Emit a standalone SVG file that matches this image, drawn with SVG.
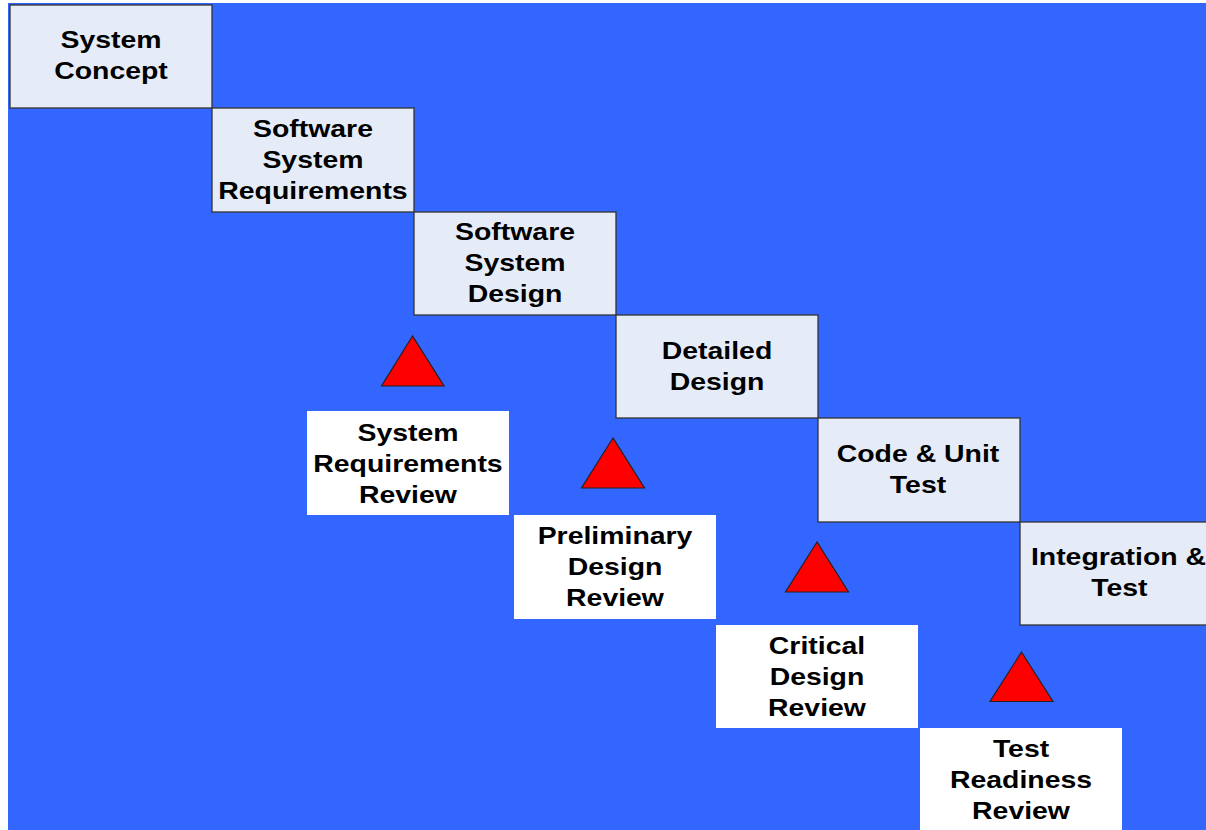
<svg xmlns="http://www.w3.org/2000/svg" width="1206" height="830" viewBox="0 0 1206 830">
<style>
.bg{fill:#3366FF}
.step{fill:#E6ECF7;stroke:#333;stroke-width:1.3}
.rev{fill:#FFFFFF}
.tri{fill:#FF0000;stroke:#222;stroke-width:1.2;stroke-linejoin:miter}
text{font-family:"Liberation Sans",Arial,sans-serif;font-weight:bold;font-size:24.5px;fill:#000;text-anchor:middle}
</style>
<rect x="0" y="0" width="1206" height="830" fill="#FFFFFF"/>
<rect class="bg" x="8" y="3" width="1198" height="827"/>
<g id="connectors"></g>
<g id="n1"><rect class="step" x="10" y="5" width="202" height="103"/>
<g transform="scale(1.16,1)"><text x="95.7" y="48">System</text><text x="95.7" y="79">Concept</text></g></g>
<g id="n2"><rect class="step" x="212" y="108" width="202" height="104"/>
<g transform="scale(1.16,1)"><text x="269.8" y="137">Software</text><text x="269.8" y="168">System</text><text x="269.8" y="199">Requirements</text></g></g>
<g id="n3"><rect class="step" x="414" y="212" width="202" height="103"/>
<g transform="scale(1.16,1)"><text x="444" y="240">Software</text><text x="444" y="271">System</text><text x="444" y="302">Design</text></g></g>
<g id="n4"><rect class="step" x="616" y="315" width="202" height="103"/>
<g transform="scale(1.16,1)"><text x="618.1" y="359">Detailed</text><text x="618.1" y="390">Design</text></g></g>
<g id="n5"><rect class="step" x="818" y="418" width="202" height="104"/>
<g transform="scale(1.16,1)"><text x="791.4" y="462">Code &amp; Unit</text><text x="791.4" y="493">Test</text></g></g>
<g id="n6"><rect class="step" x="1020" y="522" width="202" height="103"/>
<g transform="scale(1.16,1)"><text x="964.2" y="565">Integration &amp;</text><text x="965" y="596">Test</text></g></g>
<g id="r1"><polygon class="tri" points="412.5,336 381.5,386 444,386"/><rect class="rev" x="307" y="411" width="202" height="104"/>
<g transform="scale(1.16,1)"><text x="351.7" y="441">System</text><text x="351.7" y="472">Requirements</text><text x="351.7" y="503">Review</text></g></g>
<g id="r2"><polygon class="tri" points="613,438 581.5,488 644.5,488"/><rect class="rev" x="514" y="515" width="202" height="104"/>
<g transform="scale(1.16,1)"><text x="530.2" y="544">Preliminary</text><text x="530.2" y="575">Design</text><text x="530.2" y="606">Review</text></g></g>
<g id="r3"><polygon class="tri" points="817,542 785.5,592 848.5,592"/><rect class="rev" x="716" y="625" width="202" height="103"/>
<g transform="scale(1.16,1)"><text x="704.3" y="654">Critical</text><text x="704.3" y="685">Design</text><text x="704.3" y="716">Review</text></g></g>
<g id="r4"><polygon class="tri" points="1021.5,652 990,701.5 1053,701.5"/><rect class="rev" x="920" y="728" width="202" height="102"/>
<g transform="scale(1.16,1)"><text x="880.2" y="757">Test</text><text x="880.2" y="788">Readiness</text><text x="880.2" y="819">Review</text></g></g>
</svg>
